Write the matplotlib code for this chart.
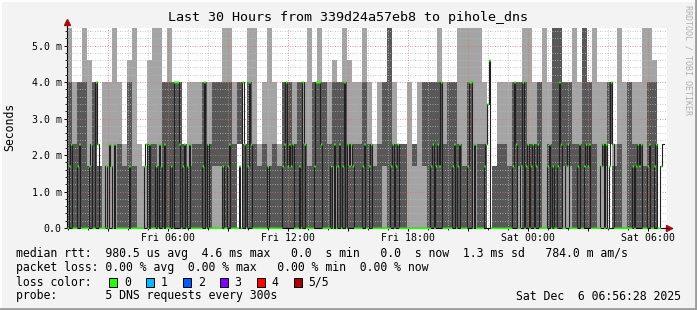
import numpy as np
import matplotlib
matplotlib.use("Agg")
import matplotlib.pyplot as plt
import matplotlib.dates as mdates
from matplotlib.patches import Rectangle
from matplotlib.ticker import MultipleLocator, FuncFormatter
from datetime import datetime, timedelta

# ======================= DONNEES =======================
START   = datetime(2025, 12, 5, 0, 56, 28)      # debut de la fenetre 30 h
COL_MIN = 15                                    # smoke : une lettre = 15 min
MED_MIN = 5                                     # mediane : une lettre = 5 min
# niveaux (ms) ; 'x' = pas de donnee
LEVELS  = {"0": 0.0, "1": 1.7, "2": 2.3, "h": 3.4, "3": 4.0, "4": 4.6, "5": 6.0,
           "x": np.nan}
# smoke : ping le plus bas / 2e / 4e / plus haut
PING_1 = ("0000000000 0000000000 0000000000 0000200000 0000000000 0000000000 "
          "0000000000 0000000000 0000400000 0000000000 0000000020 000000000x")
PING_2 = ("0000000111 0000110000 0000000001 1000200000 0000000000 0001000000 "
          "0001000011 1100000000 0100400000 1000010001 1000001120 010000000x")
PING_4 = ("3233131111 2131112213 3332122323 3332323212 1213323213 3323331223 "
          "2123522212 1333323321 3122412213 3322312553 3225321231 213221333x")
PING_5 = ("5335431335 3245214553 5332333333 3553325523 5323333353 5334354335 "
          "3233532132 3333533355 5553413333 3553353553 3535353332 533335545x")
# mediane (ping 3)
MEDIAN = ("0120001200 0001200320 0001021020 0000000100 0000001202 0001021020 "
          "0010333201 2012000000 0130200000 0001001200 0001032013 2000000000 "
          "1000000001 2312120001 0320000013 3320000010 2012013021 2100000120 "
          "0120000000 0000120120 0000000000 0000000012 0121300000 0120120000 "
          "1330200000 12h4000000 0000000132 0013012012 0120000012 0100132001 "
          "2000001200 1212000000 1202013200 0000000001 0121200012 00120012xx")

TITLE  = "Last 30 Hours from 339d24a57eb8 to pihole_dns"
LEG_RTT  = "median rtt:  980.5 us avg  4.6 ms max   0.0  s min   0.0  s now  1.3 ms sd   784.0 m am/s"
LEG_LOSS = "packet loss: 0.00 % avg  0.00 % max   0.00 % min  0.00 % now"
LEG_PROBE = "probe:       5 DNS requests every 300s"
STAMP = "Sat Dec  6 06:56:28 2025"
LOSS_LABELS = ["0", "1", "2", "3", "4", "5/5"]
LOSS_COLORS = ["#26ff00", "#00b8ff", "#0059ff", "#7e00ff", "#ff0000", "#a80000"]
# ============================================================================

W, H = 697, 310
BG = "#f3f3f3"
MONO = "DejaVu Sans Mono"
YMAX = 5.48


def lev(s):
    return np.array([LEVELS[c] for c in s.replace(" ", "")])


def edges(n, minutes):
    return mdates.date2num([START + timedelta(minutes=minutes * i) for i in range(n + 1)])


def px(x, y):
    return x / W, 1 - y / H


ext = lambda a: np.append(a, a[-1])

p1, p2, p4, p5 = (lev(s) for s in (PING_1, PING_2, PING_4, PING_5))
med = lev(MEDIAN)
tc = edges(len(p1), COL_MIN)
tm = edges(len(med), MED_MIN)

fig = plt.figure(figsize=(W / 100, H / 100), dpi=100)
fig.patch.set_facecolor(BG)
ax = fig.add_axes([67 / W, 1 - 228 / H, 600 / W, 200 / H])
ax.set_facecolor("white")

# smoke : p1-p5 clair, p2-p4 fonce
ax.fill_between(tc, ext(p1), ext(p5), step="post", color="#a4a4a4", lw=0, zorder=1)
ax.fill_between(tc, ext(p2), ext(p4), step="post", color="#585858", lw=0, zorder=1.1)
# mediane : trait noir + bande verte (perte 0)
ax.step(tm, ext(med), where="post", color="#202020", lw=0.8, zorder=3)
sw = YMAX / 200
ax.fill_between(tm, ext(med) - sw, ext(med) + sw, step="post", color=LOSS_COLORS[0],
                lw=0, zorder=3.1)

ax.set_xlim(mdates.date2num(START), mdates.date2num(START + timedelta(hours=30)))
ax.set_ylim(0, YMAX)

# grille facon rrdtool
ax.xaxis.set_major_locator(mdates.HourLocator(byhour=range(0, 24, 3)))
ax.xaxis.set_minor_locator(mdates.HourLocator())
ax.xaxis.set_major_formatter(FuncFormatter(
    lambda v, p: "" if mdates.num2date(v).hour % 6 else mdates.num2date(v).strftime("%a %H:%M")))
ax.yaxis.set_major_locator(MultipleLocator(1.0))
ax.yaxis.set_minor_locator(MultipleLocator(0.2))
ax.yaxis.set_major_formatter(FuncFormatter(lambda v, p: "0.0" if v == 0 else "%.1f m" % v))
ax.set_axisbelow(False)
ax.grid(which="minor", color="#b8b8b8", ls=(0, (1, 2)), lw=0.6)
ax.grid(which="major", color="#e07070", ls=(0, (1, 2)), lw=0.6)
ax.tick_params(which="major", length=2.2, width=0.7, labelsize=7.1, pad=1.6,
               labelfontfamily=MONO, colors="black")
ax.tick_params(which="minor", length=1.4, width=0.6)
for s in ("top", "right"):
    ax.spines[s].set_visible(False)
for s in ("left", "bottom"):
    ax.spines[s].set_linewidth(0.8)
# prolongement des axes + fleches
ax.plot([0, 0], [1, 1.03], transform=ax.transAxes, color="black", lw=0.8, clip_on=False)
ax.plot([1, 1.008], [0, 0], transform=ax.transAxes, color="black", lw=0.8, clip_on=False)
ax.plot([0], [1.03], marker="^", ms=4.5, color="#a01010", transform=ax.transAxes, clip_on=False)
ax.plot([1.004], [0], marker=">", ms=4.5, color="#a01010", transform=ax.transAxes, clip_on=False)

# textes
fig.text(*px(348, 18), TITLE, ha="center", va="center", family=MONO, fontsize=9.6)
fig.text(*px(10, 127), "Seconds", rotation=90, ha="center", va="center", family=MONO, fontsize=8.3)
fig.text(*px(688, 60), "RRDTOOL / TOBI OETIKER", rotation=270, ha="center", va="center",
         family=MONO, fontsize=6, color="#b0b0b0")
for y, s in ((254, LEG_RTT), (268, LEG_LOSS), (282, "loss color:"), (296, LEG_PROBE)):
    fig.text(*px(16.4, y), s, ha="left", va="center", family=MONO, fontsize=8.3)
fig.text(*px(681, 296), STAMP, ha="right", va="center", family=MONO, fontsize=8.3)
for i, (lab, col) in enumerate(zip(LOSS_LABELS, LOSS_COLORS)):
    x0 = 109 + 36.9 * i
    fig.patches.append(Rectangle(px(x0, 286.5), 8 / W, 9 / H, transform=fig.transFigure,
                                 facecolor=col, edgecolor="black", lw=0.7))
    fig.text(*px(x0 + 15, 282), lab, ha="left", va="center", family=MONO, fontsize=8.3)

# cadre 3D
fig.add_artist(plt.Line2D([0, 1], [1 - 0.5 / H] * 2, color="white", lw=1.4))
fig.add_artist(plt.Line2D([0.5 / W] * 2, [0, 1], color="white", lw=1.4))
fig.add_artist(plt.Line2D([0, 1], [1.5 / H] * 2, color="#9c9c9c", lw=2))
fig.add_artist(plt.Line2D([1 - 1.5 / W] * 2, [0, 1], color="#9c9c9c", lw=2))

fig.savefig("out.png", dpi=100, facecolor=BG)
